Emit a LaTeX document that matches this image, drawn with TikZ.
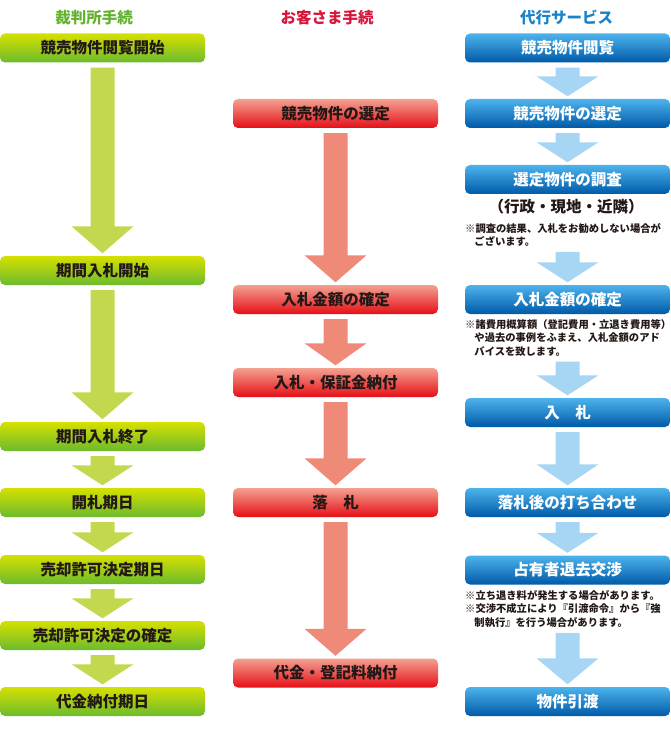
\documentclass[tikz,border=0pt]{standalone}
\usepackage{fontspec}
\newfontfamily\jp{Noto Sans CJK JP}
\usetikzlibrary{calc}
\definecolor{gT}{HTML}{D6E000}
\definecolor{gM}{HTML}{B4D30C}
\definecolor{gB}{HTML}{6CBB2E}
\definecolor{rT}{HTML}{F4A192}
\definecolor{rM}{HTML}{EE7361}
\definecolor{rB}{HTML}{E50F16}
\definecolor{bT}{HTML}{4DB3EC}
\definecolor{bM}{HTML}{138EDA}
\definecolor{bB}{HTML}{005AA8}
\definecolor{gArrow}{HTML}{C4D84F}
\definecolor{rArrow}{HTML}{F08A78}
\definecolor{bArrow}{HTML}{A6D6F4}
\definecolor{gHead}{HTML}{62B22F}
\definecolor{rHead}{HTML}{D7163C}
\definecolor{bHead}{HTML}{1C82C8}
\definecolor{txt}{HTML}{231815}
\newcommand\flowarrow[4]{%
  \path[fill=#3] let \p1=($(#1.south)+(0,5)$), \p2=($(#2.north)+(0,-2.5)$) in
    (\x2-12pt,\y1) -- (\x2+12pt,\y1) -- (\x2+12pt,\y2+#4) -- (\x2+31pt,\y2+#4)
    -- (\x2,\y2) -- (\x2-31pt,\y2+#4) -- (\x2-12pt,\y2+#4) -- cycle;}
\begin{document}
\begin{tikzpicture}[x=1pt,y=-1pt,
  box/.style={minimum width=205pt, minimum height=29pt, inner sep=0pt,
    rounded corners=5pt, font=\jp\bfseries\fontsize{15.5}{18}\selectfont},
  gbox/.style={box, top color=gT, middle color=gM, bottom color=gB, text=txt},
  rbox/.style={box, top color=rT, middle color=rM, bottom color=rB, text=txt},
  bbox/.style={box, top color=bT, middle color=bM, bottom color=bB, text=white},
  head/.style={inner sep=0pt, font=\jp\bfseries\fontsize{15.5}{18}\selectfont},
  note/.style={inner sep=0pt, align=left, anchor=north west, text=txt,
    font=\jp\bfseries\fontsize{10.3}{13.6}\selectfont},
]
\useasboundingbox (0,0) rectangle (670,735);
% headers
\node[head, text=gHead] (hL) at (94,17.5) {裁判所手続};
\node[head, text=rHead] (hM) at (327,17.5) {お客さま手続};
\node[head, text=bHead] (hR) at (566.5,17.5) {代行サービス};
% left column
\node[gbox] (L1) at (102.5,48) {競売物件閲覧開始};
\node[gbox] (L2) at (102.5,270.5) {期間入札開始};
\node[gbox] (L3) at (102.5,436.5) {期間入札終了};
\node[gbox] (L4) at (102.5,502.5) {開札期日};
\node[gbox] (L5) at (102.5,569.5) {売却許可決定期日};
\node[gbox] (L6) at (102.5,635.5) {売却許可決定の確定};
\node[gbox] (L7) at (102.5,701.5) {代金納付期日};
% middle column
\node[rbox] (M1) at (335.5,113.5) {競売物件の選定};
\node[rbox] (M2) at (335.5,299.5) {入札金額の確定};
\node[rbox] (M3) at (335.5,382.5) {入札・保証金納付};
\node[rbox] (M4) at (335.5,502.5) {落　札};
\node[rbox] (M5) at (335.5,673) {代金・登記料納付};
% right column
\node[bbox] (R1) at (567.5,48) {競売物件閲覧};
\node[bbox] (R2) at (567.5,113.5) {競売物件の選定};
\node[bbox] (R3) at (567.5,179.5) {選定物件の調査};
\node[head, text=txt] (R3a) at (566,207) {（行政・現地・近隣）};
\node[note] (N1) at (465,223) {※調査の結果、入札をお勧めしない場合が\\\hspace*{0.9em}ございます。};
\node[bbox] (R4) at (567.5,299.5) {入札金額の確定};
\node[note] (N2) at (465,319) {※諸費用概算額（登記費用・立退き費用等）\\\hspace*{0.9em}や過去の事例をふまえ、入札金額のアド\\\hspace*{0.9em}バイスを致します。};
\node[bbox] (R5) at (567.5,412.5) {入　札};
\node[bbox] (R6) at (567.5,502.5) {落札後の打ち合わせ};
\node[bbox] (R7) at (567.5,570) {占有者退去交渉};
\node[note] (N3) at (465,590) {※立ち退き料が発生する場合があります。\\※交渉不成立により『引渡命令』から『強\\\hspace*{0.9em}制執行』を行う場合があります。};
\node[bbox] (R8) at (567.5,701.5) {物件引渡};
% arrows
\flowarrow{L1}{L2}{gArrow}{27pt}
\flowarrow{L2}{L3}{gArrow}{27pt}
\flowarrow{L3}{L4}{gArrow}{20pt}
\flowarrow{L4}{L5}{gArrow}{20pt}
\flowarrow{L5}{L6}{gArrow}{20pt}
\flowarrow{L6}{L7}{gArrow}{20pt}
\flowarrow{M1}{M2}{rArrow}{27pt}
\flowarrow{M2}{M3}{rArrow}{22pt}
\flowarrow{M3}{M4}{rArrow}{27pt}
\flowarrow{M4}{M5}{rArrow}{27pt}
\flowarrow{R1}{R2}{bArrow}{20pt}
\flowarrow{R2}{R3}{bArrow}{20pt}
\flowarrow{N1}{R4}{bArrow}{20pt}
\flowarrow{N2}{R5}{bArrow}{20pt}
\flowarrow{R5}{R6}{bArrow}{21pt}
\flowarrow{R6}{R7}{bArrow}{20pt}
\flowarrow{N3}{R8}{bArrow}{26pt}
\end{tikzpicture}
\end{document}
